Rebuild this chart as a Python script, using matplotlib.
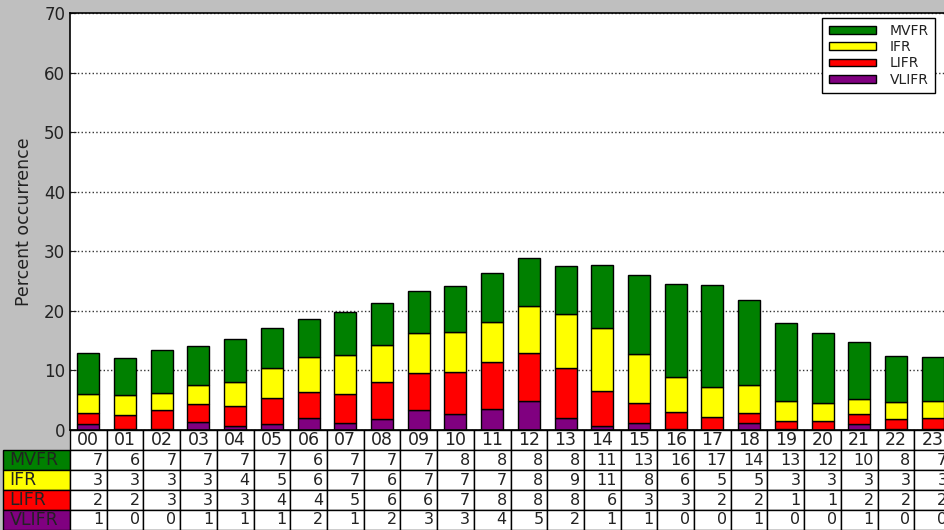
import matplotlib
matplotlib.use("Agg")
import matplotlib.pyplot as plt
import numpy as np

hours = [f"{h:02d}" for h in range(24)]

# bar segment heights (percent), bottom to top
vlifr = [1.0, 0.1, 0.2, 1.3, 0.6, 1.0, 1.95, 1.2, 1.8, 3.3, 2.7, 3.6,
         4.9, 1.95, 0.7, 1.1, 0.1, 0.0, 1.2, 0.1, 0.0, 0.95, 0.1, 0.1]
lifr = [1.8, 2.4, 3.1, 3.1, 3.4, 4.4, 4.35, 4.8, 6.3, 6.2, 7.1, 7.8,
        8.1, 8.4, 5.8, 3.4, 2.85, 2.2, 1.6, 1.4, 1.45, 1.7, 1.7, 1.85]
ifr = [3.3, 3.3, 2.9, 3.1, 4.0, 5.0, 6.0, 6.6, 6.1, 6.7, 6.7, 6.8,
       7.8, 9.2, 10.6, 8.2, 5.9, 5.0, 4.7, 3.3, 3.1, 2.6, 2.9, 2.9]
mvfr = [6.9, 6.3, 7.3, 6.6, 7.3, 6.7, 6.3, 7.2, 7.1, 7.2, 7.7, 8.2,
        8.0, 8.0, 10.6, 13.4, 15.6, 17.1, 14.4, 13.1, 11.7, 9.5, 7.7, 7.45]

# rounded values as printed in the table
mvfr_tab = [7, 6, 7, 7, 7, 7, 6, 7, 7, 7, 8, 8, 8, 8, 11, 13, 16, 17, 14, 13, 12, 10, 8, 7]
ifr_tab = [3, 3, 3, 3, 4, 5, 6, 7, 6, 7, 7, 7, 8, 9, 11, 8, 6, 5, 5, 3, 3, 3, 3, 3]
lifr_tab = [2, 2, 3, 3, 3, 4, 4, 5, 6, 6, 7, 8, 8, 8, 6, 3, 3, 2, 2, 1, 1, 2, 2, 2]
vlifr_tab = [1, 0, 0, 1, 1, 1, 2, 1, 2, 3, 3, 4, 5, 2, 1, 1, 0, 0, 1, 0, 0, 1, 0, 0]

categories = ["MVFR", "IFR", "LIFR", "VLIFR"]
colors = {"MVFR": "#008000", "IFR": "#ffff00", "LIFR": "#ff0000", "VLIFR": "#800080"}

W, H = 945, 530
fig = plt.figure(figsize=(W / 100, H / 100), dpi=100, facecolor="#bfbfbf")
# axes runs past the right edge like the cropped original
ax = fig.add_axes([70 / W, 1 - 430 / H, 881 / W, 417 / H])

x = np.arange(24)
b1 = np.array(vlifr)
b2 = b1 + np.array(lifr)
b3 = b2 + np.array(ifr)
kw = dict(width=0.6, edgecolor="black", linewidth=1)
p_v = ax.bar(x, vlifr, color=colors["VLIFR"], **kw)
p_l = ax.bar(x, lifr, bottom=b1, color=colors["LIFR"], **kw)
p_i = ax.bar(x, ifr, bottom=b2, color=colors["IFR"], **kw)
p_m = ax.bar(x, mvfr, bottom=b3, color=colors["MVFR"], **kw)

ax.set_xlim(-0.5, 23.5)
ax.set_ylim(0, 70)
ax.set_yticks(range(0, 71, 10))
ax.set_xticks([])
ax.tick_params(axis="y", labelsize=12, direction="in", length=4, colors="#222222")
ax.set_axisbelow(True)
ax.yaxis.grid(True, linestyle=":", color="#333333", linewidth=1)
ax.set_ylabel("Percent occurrence", fontsize=12.5, color="#222222", labelpad=8)
for s in ax.spines.values():
    s.set_linewidth(1.2)

leg = ax.legend([p_m, p_i, p_l, p_v], categories, loc="upper right",
                bbox_to_anchor=(935 / W, 1 - 18 / H), bbox_transform=fig.transFigure,
                borderaxespad=0, fontsize=10, handlelength=3.4, handleheight=0.5,
                labelspacing=0.15, fancybox=False, framealpha=1, edgecolor="black",
                borderpad=0.45, handletextpad=1.0)
leg.get_frame().set_linewidth(1)
for t in leg.get_texts():
    t.set_color("#222222")

# table underneath: label column + 24 hour columns
lab_w = 67 / 881
tab_h = 100 / 417
rows = [mvfr_tab, ifr_tab, lifr_tab, vlifr_tab]
cell_text = [[cat] + [str(v) for v in r] for cat, r in zip(categories, rows)]
cell_cols = [[colors[cat]] + ["white"] * 24 for cat in categories]
tbl = ax.table(cellText=cell_text, cellColours=cell_cols,
               colLabels=[""] + hours, colWidths=[lab_w] + [1 / 24] * 24,
               cellLoc="right", colLoc="center",
               bbox=[-lab_w, -tab_h, 1 + lab_w, tab_h])
tbl.auto_set_font_size(False)
tbl.set_fontsize(11.5)
for (r, c), cell in tbl.get_celld().items():
    cell.set_linewidth(1)
    cell.get_text().set_color("#222222")
    if r == 0 and c == 0:
        cell.set_visible(False)
    elif c == 0:
        cell.set_text_props(ha="left", fontsize=12.5)
    elif r == 0:
        cell.set_text_props(fontsize=12.5)

fig.savefig("out.png", dpi=100, facecolor=fig.get_facecolor())
